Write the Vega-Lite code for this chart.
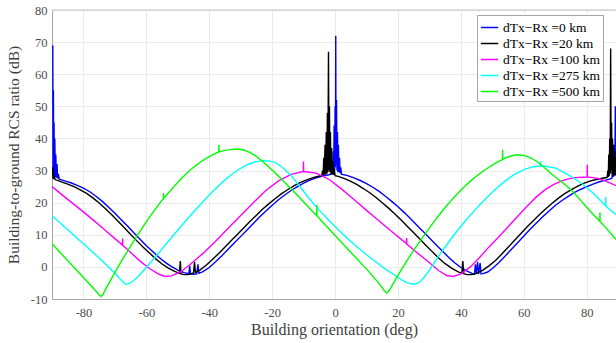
{
"$schema":"https://vega.github.io/schema/vega-lite/v6.json",
"width":564,"height":289,
"autosize":{"type":"none"},
"padding":{"left":52,"top":10,"right":0,"bottom":44},
"background":"white",
"config":{"view":{"stroke":null},"font":"Liberation Serif",
"axis":{"labelFont":"Liberation Serif","titleFont":"Liberation Serif","labelFontSize":12.5,"titleFontSize":15.5,"titleFontWeight":"normal","labelColor":"#4d4d4d","titleColor":"#404040","domainColor":"#a6a6a6","gridColor":"#ebebeb","ticks":false,"labelPadding":5}},
"datasets":{"curves":[
{"s":"0 km","x":-89.75,"y":69},{"s":"0 km","x":-89.65,"y":30},{"s":"0 km","x":-89.55,"y":55},{"s":"0 km","x":-89.45,"y":29},{"s":"0 km","x":-89.35,"y":45},{"s":"0 km","x":-89.25,"y":28.5},{"s":"0 km","x":-89.1,"y":40},{"s":"0 km","x":-88.95,"y":28},{"s":"0 km","x":-88.8,"y":35},{"s":"0 km","x":-88.6,"y":27.8},{"s":"0 km","x":-88.4,"y":32},{"s":"0 km","x":-88.2,"y":27.5},{"s":"0 km","x":-88,"y":29},{"s":"0 km","x":-87.7,"y":27.3},{"s":"0 km","x":-86,"y":26.8},{"s":"0 km","x":-84,"y":26.2},{"s":"0 km","x":-82,"y":25.4},{"s":"0 km","x":-80,"y":24.5},{"s":"0 km","x":-78,"y":23.4},{"s":"0 km","x":-76,"y":22},{"s":"0 km","x":-74,"y":20.4},{"s":"0 km","x":-72,"y":18.6},{"s":"0 km","x":-70,"y":16.7},{"s":"0 km","x":-68,"y":14.7},{"s":"0 km","x":-66,"y":12.7},{"s":"0 km","x":-64,"y":10.6},{"s":"0 km","x":-62,"y":8.6},{"s":"0 km","x":-60,"y":6.6},{"s":"0 km","x":-58,"y":4.8},{"s":"0 km","x":-56,"y":3},{"s":"0 km","x":-54,"y":1.4},{"s":"0 km","x":-52,"y":0.1},{"s":"0 km","x":-50,"y":-1},{"s":"0 km","x":-48,"y":-1.8},{"s":"0 km","x":-46.5,"y":-2.1},{"s":"0 km","x":-46.2,"y":0.3},{"s":"0 km","x":-46,"y":-2.2},{"s":"0 km","x":-45,"y":-2.3},{"s":"0 km","x":-44,"y":-2.2},{"s":"0 km","x":-43.6,"y":0.8},{"s":"0 km","x":-43.3,"y":-2},{"s":"0 km","x":-42,"y":-1.5},{"s":"0 km","x":-40,"y":-0.2},{"s":"0 km","x":-38,"y":1.6},{"s":"0 km","x":-36,"y":3.5},{"s":"0 km","x":-34,"y":5.5},{"s":"0 km","x":-32,"y":7.5},{"s":"0 km","x":-30,"y":9.5},{"s":"0 km","x":-28,"y":11.5},{"s":"0 km","x":-26,"y":13.5},{"s":"0 km","x":-24,"y":15.5},{"s":"0 km","x":-22,"y":17.4},{"s":"0 km","x":-20,"y":19.2},{"s":"0 km","x":-18,"y":20.9},{"s":"0 km","x":-16,"y":22.4},{"s":"0 km","x":-14,"y":23.8},{"s":"0 km","x":-12,"y":25},{"s":"0 km","x":-10,"y":26.1},{"s":"0 km","x":-8,"y":27},{"s":"0 km","x":-6,"y":27.7},{"s":"0 km","x":-4,"y":28.3},{"s":"0 km","x":-2,"y":28.7},{"s":"0 km","x":-1.2,"y":28.9},{"s":"0 km","x":-1,"y":30},{"s":"0 km","x":-0.8,"y":29},{"s":"0 km","x":-0.6,"y":36},{"s":"0 km","x":-0.45,"y":29.5},{"s":"0 km","x":-0.3,"y":44},{"s":"0 km","x":-0.15,"y":30},{"s":"0 km","x":0,"y":50},{"s":"0 km","x":0.1,"y":31},{"s":"0 km","x":0.2,"y":72},{"s":"0 km","x":0.3,"y":32},{"s":"0 km","x":0.45,"y":52},{"s":"0 km","x":0.6,"y":30},{"s":"0 km","x":0.75,"y":42},{"s":"0 km","x":0.9,"y":29.5},{"s":"0 km","x":1.05,"y":38},{"s":"0 km","x":1.2,"y":29.5},{"s":"0 km","x":1.4,"y":34},{"s":"0 km","x":1.6,"y":29.2},{"s":"0 km","x":1.8,"y":31},{"s":"0 km","x":2,"y":28.9},{"s":"0 km","x":4,"y":28.4},{"s":"0 km","x":6,"y":27.7},{"s":"0 km","x":8,"y":26.9},{"s":"0 km","x":10,"y":25.9},{"s":"0 km","x":12,"y":24.8},{"s":"0 km","x":14,"y":23.5},{"s":"0 km","x":16,"y":22},{"s":"0 km","x":18,"y":20.4},{"s":"0 km","x":20,"y":18.7},{"s":"0 km","x":22,"y":16.9},{"s":"0 km","x":24,"y":15},{"s":"0 km","x":26,"y":13},{"s":"0 km","x":28,"y":11},{"s":"0 km","x":30,"y":9},{"s":"0 km","x":32,"y":7},{"s":"0 km","x":34,"y":5},{"s":"0 km","x":36,"y":3.1},{"s":"0 km","x":38,"y":1.3},{"s":"0 km","x":40,"y":-0.2},{"s":"0 km","x":42,"y":-1.3},{"s":"0 km","x":43.5,"y":-2},{"s":"0 km","x":44.3,"y":-2.2},{"s":"0 km","x":44.6,"y":0.8},{"s":"0 km","x":44.9,"y":-2.2},{"s":"0 km","x":45.3,"y":1.5},{"s":"0 km","x":45.6,"y":-2.3},{"s":"0 km","x":46.1,"y":1.2},{"s":"0 km","x":46.4,"y":-2.2},{"s":"0 km","x":47,"y":-2.1},{"s":"0 km","x":48.5,"y":-1.6},{"s":"0 km","x":50,"y":-0.5},{"s":"0 km","x":52,"y":1.3},{"s":"0 km","x":54,"y":3.3},{"s":"0 km","x":56,"y":5.4},{"s":"0 km","x":58,"y":7.5},{"s":"0 km","x":60,"y":9.6},{"s":"0 km","x":62,"y":11.7},{"s":"0 km","x":64,"y":13.7},{"s":"0 km","x":66,"y":15.6},{"s":"0 km","x":68,"y":17.4},{"s":"0 km","x":70,"y":19.1},{"s":"0 km","x":72,"y":20.6},{"s":"0 km","x":74,"y":21.9},{"s":"0 km","x":76,"y":23.1},{"s":"0 km","x":78,"y":24.1},{"s":"0 km","x":80,"y":25},{"s":"0 km","x":82,"y":25.8},{"s":"0 km","x":84,"y":26.5},{"s":"0 km","x":86,"y":27},{"s":"0 km","x":87.5,"y":27.4},{"s":"0 km","x":88,"y":27.6},{"s":"0 km","x":88.3,"y":32},{"s":"0 km","x":88.5,"y":28},{"s":"0 km","x":88.7,"y":38},{"s":"0 km","x":88.9,"y":28.5},{"s":"0 km","x":89.1,"y":50},{"s":"0 km","x":89.3,"y":30},
{"s":"20 km","x":-89.8,"y":31},{"s":"20 km","x":-89.7,"y":27.5},{"s":"20 km","x":-89.6,"y":30},{"s":"20 km","x":-89.5,"y":27.3},{"s":"20 km","x":-89.3,"y":28.5},{"s":"20 km","x":-89,"y":27.2},{"s":"20 km","x":-87,"y":26.5},{"s":"20 km","x":-85,"y":25.8},{"s":"20 km","x":-83,"y":25},{"s":"20 km","x":-81,"y":24},{"s":"20 km","x":-79,"y":22.9},{"s":"20 km","x":-77,"y":21.5},{"s":"20 km","x":-75,"y":19.9},{"s":"20 km","x":-73,"y":18.1},{"s":"20 km","x":-71,"y":16.2},{"s":"20 km","x":-69,"y":14.2},{"s":"20 km","x":-67,"y":12.2},{"s":"20 km","x":-65,"y":10.1},{"s":"20 km","x":-63,"y":8.1},{"s":"20 km","x":-61,"y":6.1},{"s":"20 km","x":-59,"y":4.3},{"s":"20 km","x":-57,"y":2.5},{"s":"20 km","x":-55,"y":0.9},{"s":"20 km","x":-53,"y":-0.4},{"s":"20 km","x":-51,"y":-1.4},{"s":"20 km","x":-49.5,"y":-2},{"s":"20 km","x":-49.2,"y":1.8},{"s":"20 km","x":-49,"y":-2.2},{"s":"20 km","x":-48,"y":-2.4},{"s":"20 km","x":-47,"y":-2.4},{"s":"20 km","x":-46,"y":-2.2},{"s":"20 km","x":-45,"y":-1.9},{"s":"20 km","x":-44.7,"y":1.5},{"s":"20 km","x":-44.4,"y":-1.8},{"s":"20 km","x":-43,"y":-1},{"s":"20 km","x":-41,"y":0.5},{"s":"20 km","x":-39,"y":2.3},{"s":"20 km","x":-37,"y":4.2},{"s":"20 km","x":-35,"y":6.2},{"s":"20 km","x":-33,"y":8.2},{"s":"20 km","x":-31,"y":10.2},{"s":"20 km","x":-29,"y":12.2},{"s":"20 km","x":-27,"y":14.2},{"s":"20 km","x":-25,"y":16.1},{"s":"20 km","x":-23,"y":18},{"s":"20 km","x":-21,"y":19.7},{"s":"20 km","x":-19,"y":21.3},{"s":"20 km","x":-17,"y":22.8},{"s":"20 km","x":-15,"y":24.1},{"s":"20 km","x":-13,"y":25.3},{"s":"20 km","x":-11,"y":26.3},{"s":"20 km","x":-9,"y":27.1},{"s":"20 km","x":-7,"y":27.8},{"s":"20 km","x":-5,"y":28.3},{"s":"20 km","x":-4.2,"y":28.5},{"s":"20 km","x":-4,"y":30},{"s":"20 km","x":-3.8,"y":28.6},{"s":"20 km","x":-3.6,"y":34},{"s":"20 km","x":-3.4,"y":28.7},{"s":"20 km","x":-3.2,"y":38},{"s":"20 km","x":-3,"y":28.8},{"s":"20 km","x":-2.8,"y":42},{"s":"20 km","x":-2.6,"y":29},{"s":"20 km","x":-2.45,"y":48},{"s":"20 km","x":-2.3,"y":29.5},{"s":"20 km","x":-2.1,"y":67},{"s":"20 km","x":-1.95,"y":30},{"s":"20 km","x":-1.8,"y":50},{"s":"20 km","x":-1.65,"y":29.5},{"s":"20 km","x":-1.5,"y":42},{"s":"20 km","x":-1.3,"y":29},{"s":"20 km","x":-1.1,"y":37},{"s":"20 km","x":-0.9,"y":28.8},{"s":"20 km","x":-0.7,"y":33},{"s":"20 km","x":-0.5,"y":28.6},{"s":"20 km","x":-0.3,"y":30.5},{"s":"20 km","x":0,"y":28.4},{"s":"20 km","x":1,"y":28.2},{"s":"20 km","x":3,"y":27.5},{"s":"20 km","x":5,"y":26.6},{"s":"20 km","x":7,"y":25.6},{"s":"20 km","x":9,"y":24.4},{"s":"20 km","x":11,"y":23.1},{"s":"20 km","x":13,"y":21.6},{"s":"20 km","x":15,"y":20},{"s":"20 km","x":17,"y":18.3},{"s":"20 km","x":19,"y":16.5},{"s":"20 km","x":21,"y":14.6},{"s":"20 km","x":23,"y":12.6},{"s":"20 km","x":25,"y":10.6},{"s":"20 km","x":27,"y":8.6},{"s":"20 km","x":29,"y":6.6},{"s":"20 km","x":31,"y":4.6},{"s":"20 km","x":33,"y":2.7},{"s":"20 km","x":35,"y":1},{"s":"20 km","x":37,"y":-0.4},{"s":"20 km","x":39,"y":-1.5},{"s":"20 km","x":40.3,"y":-2},{"s":"20 km","x":40.6,"y":1.8},{"s":"20 km","x":40.9,"y":-2.1},{"s":"20 km","x":42,"y":-2.4},{"s":"20 km","x":43,"y":-2.4},{"s":"20 km","x":44,"y":-2.3},{"s":"20 km","x":45,"y":-2},{"s":"20 km","x":47,"y":-1},{"s":"20 km","x":49,"y":0.4},{"s":"20 km","x":51,"y":2},{"s":"20 km","x":53,"y":4},{"s":"20 km","x":55,"y":6.1},{"s":"20 km","x":57,"y":8.2},{"s":"20 km","x":59,"y":10.3},{"s":"20 km","x":61,"y":12.4},{"s":"20 km","x":63,"y":14.4},{"s":"20 km","x":65,"y":16.3},{"s":"20 km","x":67,"y":18.1},{"s":"20 km","x":69,"y":19.8},{"s":"20 km","x":71,"y":21.4},{"s":"20 km","x":73,"y":22.8},{"s":"20 km","x":75,"y":24},{"s":"20 km","x":77,"y":25.1},{"s":"20 km","x":79,"y":26},{"s":"20 km","x":81,"y":26.7},{"s":"20 km","x":83,"y":27.2},{"s":"20 km","x":85,"y":27.6},{"s":"20 km","x":86.5,"y":27.9},{"s":"20 km","x":86.7,"y":30},{"s":"20 km","x":86.85,"y":28},{"s":"20 km","x":87,"y":35},{"s":"20 km","x":87.15,"y":28.2},{"s":"20 km","x":87.3,"y":40},{"s":"20 km","x":87.45,"y":29},{"s":"20 km","x":87.6,"y":68},{"s":"20 km","x":87.75,"y":30},{"s":"20 km","x":87.9,"y":45},{"s":"20 km","x":88.05,"y":29},{"s":"20 km","x":88.2,"y":40},{"s":"20 km","x":88.35,"y":28.5},{"s":"20 km","x":88.5,"y":38},{"s":"20 km","x":88.7,"y":28.5},{"s":"20 km","x":88.9,"y":36},{"s":"20 km","x":89.1,"y":28.5},{"s":"20 km","x":89.3,"y":34},
{"s":"100 km","x":-90,"y":25},{"s":"100 km","x":-86,"y":21.8},{"s":"100 km","x":-82,"y":18.7},{"s":"100 km","x":-78,"y":15.5},{"s":"100 km","x":-74,"y":12.2},{"s":"100 km","x":-70,"y":8.8},{"s":"100 km","x":-67.6,"y":6.8},{"s":"100 km","x":-67.55,"y":8.8},{"s":"100 km","x":-67.5,"y":6.7},{"s":"100 km","x":-66,"y":5.4},{"s":"100 km","x":-62,"y":1.8},{"s":"100 km","x":-59,"y":-0.5},{"s":"100 km","x":-56,"y":-2.3},{"s":"100 km","x":-54,"y":-3},{"s":"100 km","x":-52,"y":-2.8},{"s":"100 km","x":-49,"y":-1.5},{"s":"100 km","x":-46,"y":0.8},{"s":"100 km","x":-42,"y":4.2},{"s":"100 km","x":-38,"y":8},{"s":"100 km","x":-34,"y":12},{"s":"100 km","x":-30,"y":16},{"s":"100 km","x":-26,"y":20},{"s":"100 km","x":-22,"y":23.8},{"s":"100 km","x":-18,"y":26.8},{"s":"100 km","x":-14,"y":28.8},{"s":"100 km","x":-10.1,"y":29.7},{"s":"100 km","x":-10.05,"y":32.8},{"s":"100 km","x":-10,"y":29.7},{"s":"100 km","x":-6,"y":29.2},{"s":"100 km","x":-2,"y":27.3},{"s":"100 km","x":2,"y":24.3},{"s":"100 km","x":6,"y":21},{"s":"100 km","x":10,"y":17.6},{"s":"100 km","x":14,"y":14.3},{"s":"100 km","x":18,"y":11},{"s":"100 km","x":22,"y":7.8},{"s":"100 km","x":22.7,"y":7.2},{"s":"100 km","x":22.75,"y":9},{"s":"100 km","x":22.8,"y":7.1},{"s":"100 km","x":26,"y":4.5},{"s":"100 km","x":30,"y":1.3},{"s":"100 km","x":33,"y":-1.2},{"s":"100 km","x":35.5,"y":-2.7},{"s":"100 km","x":37.5,"y":-3},{"s":"100 km","x":40,"y":-2.2},{"s":"100 km","x":43,"y":0},{"s":"100 km","x":46,"y":3},{"s":"100 km","x":49,"y":6.3},{"s":"100 km","x":52,"y":9.3},{"s":"100 km","x":55,"y":12.5},{"s":"100 km","x":58,"y":15.7},{"s":"100 km","x":61,"y":18.9},{"s":"100 km","x":64,"y":21.8},{"s":"100 km","x":67,"y":24.2},{"s":"100 km","x":70,"y":25.9},{"s":"100 km","x":73,"y":27.1},{"s":"100 km","x":76,"y":27.8},{"s":"100 km","x":80.1,"y":28},{"s":"100 km","x":80.15,"y":31.8},{"s":"100 km","x":80.2,"y":28},{"s":"100 km","x":84,"y":27.5},{"s":"100 km","x":87,"y":26.3},{"s":"100 km","x":89.3,"y":25.3},
{"s":"275 km","x":-90,"y":15.9},{"s":"275 km","x":-88,"y":14.2},{"s":"275 km","x":-86,"y":12.4},{"s":"275 km","x":-84,"y":10.7},{"s":"275 km","x":-82,"y":8.9},{"s":"275 km","x":-80,"y":7.2},{"s":"275 km","x":-78,"y":5.4},{"s":"275 km","x":-76,"y":3.6},{"s":"275 km","x":-74,"y":1.8},{"s":"275 km","x":-72,"y":0},{"s":"275 km","x":-70,"y":-2},{"s":"275 km","x":-68,"y":-4.2},{"s":"275 km","x":-66.5,"y":-5.5},{"s":"275 km","x":-65,"y":-5},{"s":"275 km","x":-63,"y":-3.4},{"s":"275 km","x":-61,"y":-1.3},{"s":"275 km","x":-59,"y":1},{"s":"275 km","x":-57,"y":3.3},{"s":"275 km","x":-55,"y":5.6},{"s":"275 km","x":-53,"y":8},{"s":"275 km","x":-51,"y":10.3},{"s":"275 km","x":-49,"y":12.6},{"s":"275 km","x":-47,"y":14.9},{"s":"275 km","x":-45,"y":17.1},{"s":"275 km","x":-43,"y":19.3},{"s":"275 km","x":-41,"y":21.4},{"s":"275 km","x":-39,"y":23.4},{"s":"275 km","x":-37,"y":25.3},{"s":"275 km","x":-35,"y":27.1},{"s":"275 km","x":-33,"y":28.7},{"s":"275 km","x":-31,"y":30.1},{"s":"275 km","x":-29,"y":31.3},{"s":"275 km","x":-27,"y":32.2},{"s":"275 km","x":-25,"y":32.8},{"s":"275 km","x":-23,"y":33.1},{"s":"275 km","x":-21,"y":33},{"s":"275 km","x":-19,"y":32.5},{"s":"275 km","x":-17,"y":31.2},{"s":"275 km","x":-14,"y":28.5},{"s":"275 km","x":-11,"y":24.8},{"s":"275 km","x":-8,"y":21},{"s":"275 km","x":-5,"y":17.6},{"s":"275 km","x":-2,"y":14.5},{"s":"275 km","x":1,"y":11.6},{"s":"275 km","x":4,"y":8.8},{"s":"275 km","x":7,"y":6.2},{"s":"275 km","x":10,"y":3.8},{"s":"275 km","x":13,"y":1.5},{"s":"275 km","x":16,"y":-0.7},{"s":"275 km","x":19,"y":-2.6},{"s":"275 km","x":21,"y":-4},{"s":"275 km","x":23,"y":-5},{"s":"275 km","x":24.8,"y":-5.4},{"s":"275 km","x":26.5,"y":-5},{"s":"275 km","x":28,"y":-3.6},{"s":"275 km","x":30,"y":-1},{"s":"275 km","x":33,"y":3.5},{"s":"275 km","x":36,"y":7.6},{"s":"275 km","x":39,"y":11.5},{"s":"275 km","x":42,"y":15},{"s":"275 km","x":45,"y":18.3},{"s":"275 km","x":48,"y":21.4},{"s":"275 km","x":51,"y":24.2},{"s":"275 km","x":54,"y":26.7},{"s":"275 km","x":57,"y":28.8},{"s":"275 km","x":60,"y":30.3},{"s":"275 km","x":63,"y":31.2},{"s":"275 km","x":65.3,"y":31.4},{"s":"275 km","x":65.35,"y":33},{"s":"275 km","x":65.4,"y":31.4},{"s":"275 km","x":67,"y":31.3},{"s":"275 km","x":70,"y":30.8},{"s":"275 km","x":73,"y":29.3},{"s":"275 km","x":76,"y":27.6},{"s":"275 km","x":79,"y":25.5},{"s":"275 km","x":82,"y":23},{"s":"275 km","x":84,"y":21},{"s":"275 km","x":86,"y":19},{"s":"275 km","x":86.05,"y":21.8},{"s":"275 km","x":86.1,"y":18.9},{"s":"275 km","x":88,"y":17.3},{"s":"275 km","x":89.3,"y":16.3},
{"s":"500 km","x":-90,"y":7.2},{"s":"500 km","x":-88,"y":5.1},{"s":"500 km","x":-86,"y":3},{"s":"500 km","x":-84,"y":0.9},{"s":"500 km","x":-82,"y":-1.2},{"s":"500 km","x":-80,"y":-3.3},{"s":"500 km","x":-78,"y":-5.4},{"s":"500 km","x":-76,"y":-7.6},{"s":"500 km","x":-75,"y":-8.7},{"s":"500 km","x":-74.4,"y":-9.2},{"s":"500 km","x":-73.8,"y":-8.6},{"s":"500 km","x":-73,"y":-7},{"s":"500 km","x":-71,"y":-3.5},{"s":"500 km","x":-69,"y":0},{"s":"500 km","x":-67,"y":3.3},{"s":"500 km","x":-65,"y":6.5},{"s":"500 km","x":-63,"y":9.6},{"s":"500 km","x":-61,"y":12.6},{"s":"500 km","x":-59,"y":15.5},{"s":"500 km","x":-57,"y":18.2},{"s":"500 km","x":-55,"y":20.8},{"s":"500 km","x":-54.6,"y":21.2},{"s":"500 km","x":-54.55,"y":23},{"s":"500 km","x":-54.5,"y":21.3},{"s":"500 km","x":-53,"y":23},{"s":"500 km","x":-51,"y":25.3},{"s":"500 km","x":-49,"y":27.4},{"s":"500 km","x":-47,"y":29.3},{"s":"500 km","x":-45,"y":31},{"s":"500 km","x":-43,"y":32.5},{"s":"500 km","x":-41,"y":33.8},{"s":"500 km","x":-39,"y":34.9},{"s":"500 km","x":-37,"y":35.8},{"s":"500 km","x":-36.95,"y":38},{"s":"500 km","x":-36.9,"y":35.8},{"s":"500 km","x":-35,"y":36.3},{"s":"500 km","x":-33,"y":36.6},{"s":"500 km","x":-31,"y":36.7},{"s":"500 km","x":-29,"y":36.4},{"s":"500 km","x":-27,"y":35.6},{"s":"500 km","x":-25,"y":34.4},{"s":"500 km","x":-23,"y":32.8},{"s":"500 km","x":-21,"y":31},{"s":"500 km","x":-19,"y":29.2},{"s":"500 km","x":-17,"y":27.3},{"s":"500 km","x":-15,"y":25.3},{"s":"500 km","x":-13,"y":23.3},{"s":"500 km","x":-11,"y":21.3},{"s":"500 km","x":-9,"y":19.2},{"s":"500 km","x":-7,"y":17.1},{"s":"500 km","x":-5.85,"y":16},{"s":"500 km","x":-5.8,"y":19.3},{"s":"500 km","x":-5.75,"y":15.9},{"s":"500 km","x":-4,"y":14},{"s":"500 km","x":-2,"y":11.9},{"s":"500 km","x":0,"y":9.8},{"s":"500 km","x":2,"y":7.7},{"s":"500 km","x":4,"y":5.6},{"s":"500 km","x":6,"y":3.5},{"s":"500 km","x":8,"y":1.4},{"s":"500 km","x":10,"y":-0.7},{"s":"500 km","x":12,"y":-2.9},{"s":"500 km","x":14,"y":-5.2},{"s":"500 km","x":15.5,"y":-7.2},{"s":"500 km","x":16.4,"y":-8.1},{"s":"500 km","x":17.3,"y":-7.2},{"s":"500 km","x":19,"y":-4.3},{"s":"500 km","x":21,"y":-1},{"s":"500 km","x":23,"y":2.2},{"s":"500 km","x":25,"y":5.2},{"s":"500 km","x":27,"y":8},{"s":"500 km","x":29,"y":10.8},{"s":"500 km","x":31,"y":13.5},{"s":"500 km","x":33,"y":16.1},{"s":"500 km","x":35,"y":18.5},{"s":"500 km","x":37,"y":20.8},{"s":"500 km","x":39,"y":22.9},{"s":"500 km","x":41,"y":24.9},{"s":"500 km","x":43,"y":26.7},{"s":"500 km","x":45,"y":28.3},{"s":"500 km","x":47,"y":29.8},{"s":"500 km","x":49,"y":31.1},{"s":"500 km","x":51,"y":32.3},{"s":"500 km","x":53.2,"y":33.4},{"s":"500 km","x":53.25,"y":36.5},{"s":"500 km","x":53.3,"y":33.5},{"s":"500 km","x":55,"y":34.3},{"s":"500 km","x":57.5,"y":34.9},{"s":"500 km","x":60,"y":34.7},{"s":"500 km","x":62,"y":34},{"s":"500 km","x":64,"y":32.9},{"s":"500 km","x":66,"y":31.4},{"s":"500 km","x":68,"y":29.6},{"s":"500 km","x":70,"y":28},{"s":"500 km","x":72,"y":26.5},{"s":"500 km","x":74,"y":24.9},{"s":"500 km","x":76,"y":23},{"s":"500 km","x":78,"y":20.8},{"s":"500 km","x":80,"y":18.6},{"s":"500 km","x":82,"y":16.4},{"s":"500 km","x":84.15,"y":14.2},{"s":"500 km","x":84.2,"y":16.9},{"s":"500 km","x":84.25,"y":14.1},{"s":"500 km","x":86,"y":12.3},{"s":"500 km","x":88,"y":10},{"s":"500 km","x":89.3,"y":8.5}
]},
"layer":[
{"data":{"values":[{"top":80}]},"mark":{"type":"rule","color":"#bfbfbf","strokeWidth":1},"encoding":{"y":{"field":"top","type":"quantitative","scale":{"domain":[-10,80],"nice":false,"zero":false},"axis":{"title":"Building-to-ground RCS ratio (dB)","values":[-10,0,10,20,30,40,50,60,70,80],"labelPadding":5,"titlePadding":9,"labelOverlap":false,"labelFlush":false,"labelExpr":"replace(datum.label, '−', '-')"}}}},
{"data":{"name":"curves"},
"mark":{"type":"line","strokeWidth":1.4,"clip":true},
"encoding":{
"x":{"field":"x","type":"quantitative","scale":{"domain":[-90,89.3],"nice":false,"zero":false},"axis":{"title":"Building orientation (deg)","values":[-80,-60,-40,-20,0,20,40,60,80],"labelPadding":7,"titlePadding":3,"titleFontSize":16,"labelOverlap":false,"labelFlush":false,"labelExpr":"replace(datum.label, '−', '-')"}},
"y":{"field":"y","type":"quantitative","scale":{"domain":[-10,80],"nice":false,"zero":false},"axis":{"title":"Building-to-ground RCS ratio (dB)","values":[-10,0,10,20,30,40,50,60,70,80],"labelPadding":5,"titlePadding":9,"labelOverlap":false,"labelFlush":false,"labelExpr":"replace(datum.label, '−', '-')"}},
"color":{"field":"s","type":"nominal","scale":{"domain":["0 km","20 km","100 km","275 km","500 km"],"range":["#0000ff","#000000","#ff00ff","#00ffff","#00ff00"]},
"legend":{"title":null,"orient":"none","legendX":425,"legendY":5,"symbolType":"stroke","symbolSize":300,"symbolStrokeWidth":1.5,"labelFont":"Liberation Serif","labelFontSize":13.5,"labelColor":"#000000","strokeColor":"#a6a6a6","fillColor":"#ffffff","padding":3,"rowPadding":0,"labelExpr":"'dTx−Rx =' + datum.label"}}
}}
]
}
